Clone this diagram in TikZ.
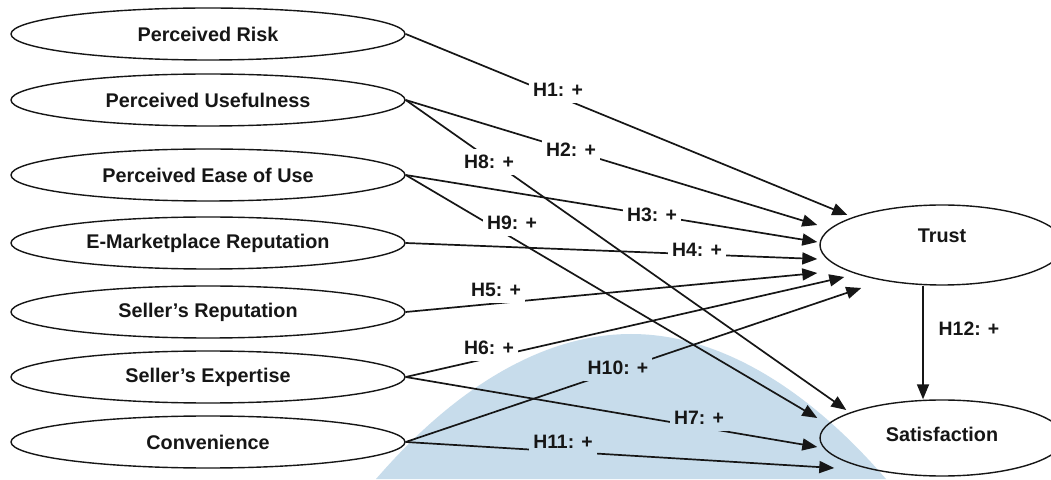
\documentclass[tikz,border=0pt]{standalone}
\usepackage{fontspec}
\setmainfont{Liberation Sans}
\usetikzlibrary{shapes.geometric,arrows.meta}
\definecolor{wm}{RGB}{199,220,235}
\definecolor{ink}{RGB}{22,22,22}
\begin{document}
\begin{tikzpicture}[x=1pt,y=1pt,
  var/.style={ellipse, draw=ink, line width=1.4pt, minimum width=394pt, minimum height=52pt, inner sep=0pt,
    font=\fontsize{19.8}{22}\selectfont\bfseries, text=ink},
  big/.style={var, minimum width=244pt, minimum height=80pt},
  link/.style={draw=ink, line width=1.7pt, -{Triangle[length=15pt,width=12pt]}},
  lab/.style={fill=white, inner xsep=4pt, inner ysep=6pt, font=\fontsize{19.4}{22}\selectfont\bfseries, text=ink},
  labw/.style={lab, fill=wm}
]
\useasboundingbox (0,0) rectangle (1051,479);
\fill[white] (0,0) rectangle (1051,479);
% watermark
\begin{scope}
\clip (0,0) rectangle (1051,479);
\fill[wm] (376,0) parabola bend (631,145) (886,0) -- cycle;
\end{scope}

% constructs
\node[var] (pr)   at (208,445) {Perceived Risk};
\node[var] (pu)   at (208,379) {Perceived Usefulness};
\node[var] (peou) at (208,304) {Perceived Ease of Use};
\node[var] (emr)  at (208,236) {E-Marketplace Reputation};
\node[var] (sr)   at (208,167) {Seller's Reputation};
\node[var] (se)   at (208,102) {Seller's Expertise};
\node[var] (conv) at (208,37)  {Convenience};
\node[big, text height=14pt, text depth=18pt] (trust) at (942,234) {Trust};
\node[big, minimum height=76pt, text height=14pt, text depth=8pt] (sat) at (942,41) {Satisfaction};

% arrow end points
\coordinate (t1)  at ([shift={(28,30)}]trust.west);
\coordinate (t2)  at ([shift={(-2,20)}]trust.west);
\coordinate (t3)  at ([shift={(-2,3)}]trust.west);
\coordinate (t4)  at ([shift={(-2,-14)}]trust.west);
\coordinate (t5)  at ([shift={(-2,-28)}]trust.west);
\coordinate (t6)  at ([shift={(25,-32)}]trust.west);
\coordinate (t10) at ([shift={(42,-43)}]trust.west);
\coordinate (s8)  at ([shift={(27,28)}]sat.west);
\coordinate (s9)  at ([shift={(-2,20)}]sat.west);
\coordinate (s7)  at ([shift={(-2,-9)}]sat.west);
\coordinate (s11) at ([shift={(15,-30)}]sat.west);
\coordinate (t12) at ([xshift=-19pt]trust.south);
\coordinate (s12) at ([xshift=-19pt]sat.north);

% connectors
\draw[link] (pr.east)   -- (t1);
\draw[link] (pu.east)   -- (t2);
\draw[link] (pu.east)   -- (s8);
\draw[link] (peou.east) -- (t3);
\draw[link] (peou.east) -- (s9);
\draw[link] (emr.east)  -- (t4);
\draw[link] (sr.east)   -- (t5);
\draw[link] (se.east)   -- (t6);
\draw[link] (se.east)   -- (s7);
\draw[link] (conv.east) -- (t10);
\draw[link] (conv.east) -- (s11);
\draw[link] (t12) -- (s12);

% labels
\node[lab]  (l1)  at (558,389) {H1: +};
\node[lab]  (l2)  at (571,329) {H2: +};
\node[lab]  (l8)  at (489,317) {H8: +};
\node[lab]  (l3)  at (652,264) {H3: +};
\node[lab]  (l9)  at (512,256) {H9: +};
\node[lab]  (l4)  at (697,229) {H4: +};
\node[lab]  (l5)  at (496,189) {H5: +};
\node[lab]  (l6)  at (489,131) {H6: +};
\node[labw] (l10) at (618,111) {H10: +};
\node[labw] (l7)  at (699,61)  {H7: +};
\node[labw] (l11) at (563,37)  {H11: +};
\node[lab]  (l12) at (969,150) {H12: +};
\end{tikzpicture}
\end{document}
